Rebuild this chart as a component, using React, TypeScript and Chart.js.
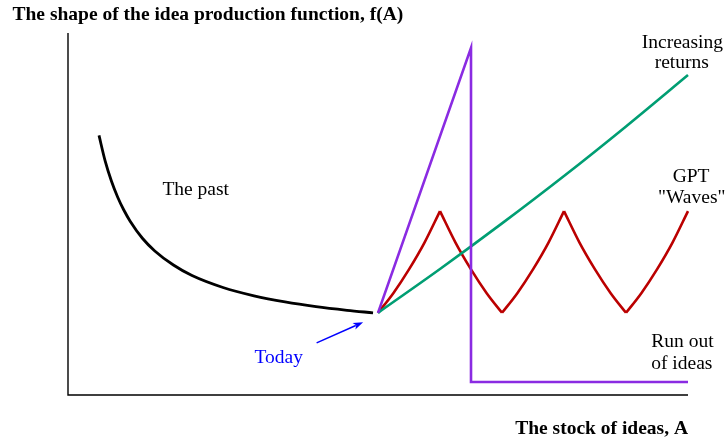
import React, { useEffect, useRef } from "react";
import { Chart, registerables } from "chart.js";
Chart.register(...registerables);

// "The past" curve
const pastX = [0.5, 0.6, 0.7, 0.8, 0.9, 1.0, 1.2, 1.4, 1.7, 2.0, 2.5, 3.0, 3.5, 4.0, 4.5, 4.92];
const pastY = [7.17, 6.46, 5.91, 5.47, 5.11, 4.81, 4.33, 3.98, 3.59, 3.3, 2.97, 2.74, 2.57, 2.44, 2.34, 2.27];
// Increasing returns
const incX = [5, 6, 7, 8, 9, 10];
const incY = [2.27, 3.48, 4.74, 6.05, 7.42, 8.84];
// GPT waves (each half-wave has 5 points)
const wavesX = [5, 5.25, 5.5, 5.75, 6, 6.25, 6.5, 6.75, 7, 7.25, 7.5, 7.75, 8, 8.25, 8.5, 8.75, 9, 9.25, 9.5, 9.75, 10];
const wavesY = [2.27, 2.82, 3.47, 4.21, 5.08, 4.21, 3.47, 2.82, 2.27, 2.82, 3.47, 4.21, 5.08, 4.21, 3.47, 2.82, 2.27, 2.82, 3.47, 4.21, 5.08];
// Run out of ideas
const runX = [5, 6.5, 6.5, 10];
const runY = [2.27, 9.59, 0.36, 0.36];

// Text notes (center x, baseline y in data units)
const noteText = ["The past", "Today", "Increasing", "returns", "GPT", "\"Waves\"", "Run out", "of ideas"];
const noteX = [2.06, 3.4, 9.91, 9.9, 10.05, 10.06, 9.91, 9.9];
const noteY = [5.52, 0.89, 9.58, 9.02, 5.89, 5.3, 1.33, 0.72];
const noteColor = ["#000", "#0000ff", "#000", "#000", "#000", "#000", "#000", "#000"];
// Arrow from "Today" to the point
const arrowX = [4.01, 4.76];
const arrowY = [1.44, 2.01];

const titleText = "The shape of the idea production function, f(A)";
const xLabelText = "The stock of ideas, A";

const SERIF = "'Liberation Serif', 'Times New Roman', serif";

function pts(xs: number[], ys: number[]) {
  return xs.map((x, i) => ({ x, y: ys[i] }));
}

export default function App() {
  const ref = useRef<HTMLCanvasElement | null>(null);
  useEffect(() => {
    document.body.style.margin = "0";
    const canvas = ref.current!;
    const waveSets: any[] = [];
    for (let i = 0; i + 4 < wavesX.length; i += 4) {
      waveSets.push({
        data: pts(wavesX.slice(i, i + 5), wavesY.slice(i, i + 5)),
        borderColor: "#bb0000",
        borderWidth: 2.6,
        pointRadius: 0,
        cubicInterpolationMode: "monotone",
        clip: false,
      });
    }
    const overlay = {
      id: "overlay",
      afterDatasetsDraw(chart: any) {
        const ctx = chart.ctx as CanvasRenderingContext2D;
        const xs = chart.scales.x;
        const ys = chart.scales.y;
        const px = (v: number) => xs.getPixelForValue(v);
        const py = (v: number) => ys.getPixelForValue(v);
        ctx.save();
        // axes
        ctx.strokeStyle = "#000";
        ctx.lineWidth = 1.4;
        ctx.beginPath();
        ctx.moveTo(px(0), py(10));
        ctx.lineTo(px(0), py(0));
        ctx.lineTo(px(10), py(0));
        ctx.stroke();
        // notes
        ctx.font = `19.5px ${SERIF}`;
        ctx.textAlign = "center";
        ctx.textBaseline = "alphabetic";
        noteText.forEach((t, i) => {
          ctx.fillStyle = noteColor[i];
          ctx.fillText(t, px(noteX[i]), py(noteY[i]));
        });
        // arrow
        const x0 = px(arrowX[0]), y0 = py(arrowY[0]);
        const x1 = px(arrowX[1]), y1 = py(arrowY[1]);
        ctx.strokeStyle = "#0000ff";
        ctx.fillStyle = "#0000ff";
        ctx.lineWidth = 1.5;
        const ang = Math.atan2(y1 - y0, x1 - x0);
        const hl = 10, hw = 3.5;
        ctx.beginPath();
        ctx.moveTo(x0, y0);
        ctx.lineTo(x1 - Math.cos(ang) * hl * 0.8, y1 - Math.sin(ang) * hl * 0.8);
        ctx.stroke();
        ctx.beginPath();
        ctx.moveTo(x1, y1);
        ctx.lineTo(x1 - Math.cos(ang) * hl + Math.sin(ang) * hw, y1 - Math.sin(ang) * hl - Math.cos(ang) * hw);
        ctx.lineTo(x1 - Math.cos(ang) * hl * 0.75, y1 - Math.sin(ang) * hl * 0.75);
        ctx.lineTo(x1 - Math.cos(ang) * hl - Math.sin(ang) * hw, y1 - Math.sin(ang) * hl + Math.cos(ang) * hw);
        ctx.closePath();
        ctx.fill();
        // title & axis label
        ctx.fillStyle = "#000";
        ctx.font = `bold 19.5px ${SERIF}`;
        ctx.textAlign = "left";
        ctx.fillText(titleText, 12.5, 20);
        ctx.textAlign = "right";
        ctx.fillText(xLabelText, px(10), 434);
        ctx.restore();
      },
    };
    const chart = new Chart(canvas, {
      type: "line",
      data: {
        datasets: [
          {
            data: pts(runX, runY),
            borderColor: "#8a2be2",
            borderWidth: 2.6,
            pointRadius: 0,
            tension: 0,
            clip: false,
          } as any,
          {
            data: pts(incX, incY),
            borderColor: "#009e73",
            borderWidth: 2.6,
            pointRadius: 0,
            cubicInterpolationMode: "monotone",
            clip: false,
          },
          ...waveSets,
          {
            data: pts(pastX, pastY),
            borderColor: "#000",
            borderWidth: 2.8,
            pointRadius: 0,
            cubicInterpolationMode: "monotone",
            clip: false,
          },
        ],
      },
      options: {
        responsive: false,
        animation: false,
        parsing: false as any,
        layout: { padding: { left: 68, right: 37, top: 33, bottom: 43 } },
        plugins: { legend: { display: false }, tooltip: { enabled: false }, title: { display: false } },
        scales: {
          x: { type: "linear", min: 0, max: 10, display: false },
          y: { type: "linear", min: 0, max: 10, display: false },
        },
      },
      plugins: [overlay],
    });
    return () => chart.destroy();
  }, []);
  return <canvas ref={ref} width={725} height={438} style={{ display: "block", width: 725, height: 438 }} />;
}
